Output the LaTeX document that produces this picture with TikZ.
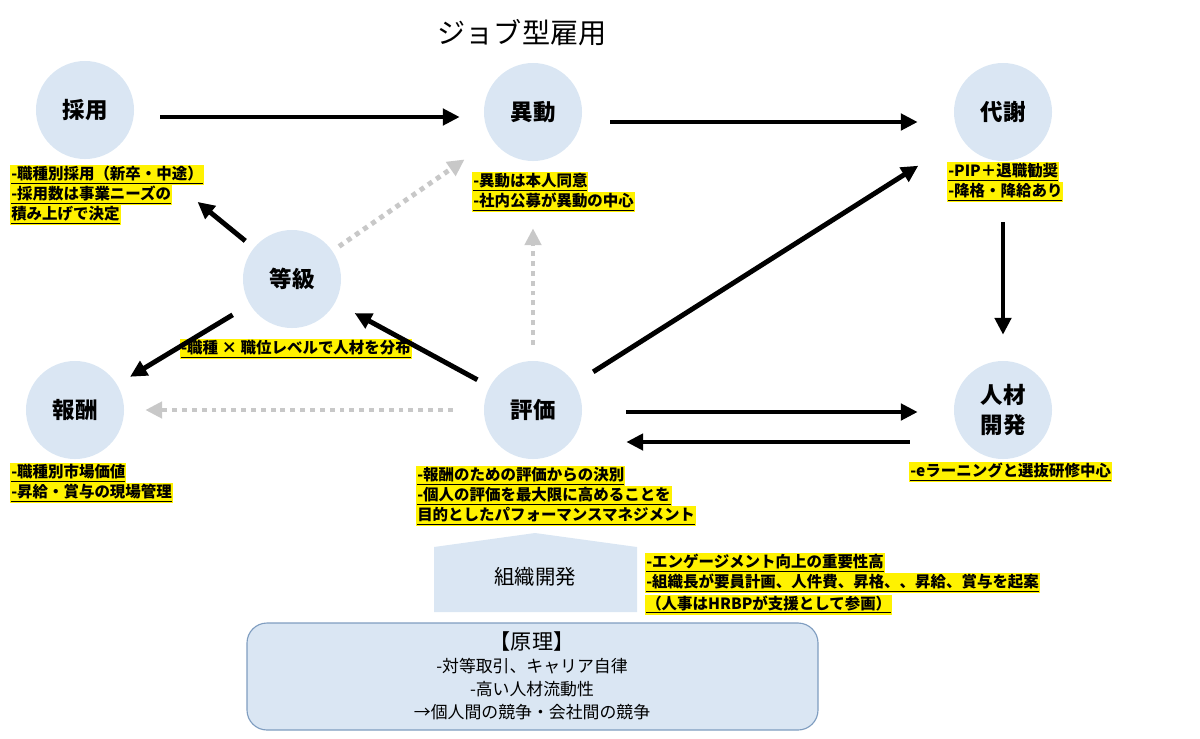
\documentclass[tikz,border=0pt]{standalone}
\usepackage{fontspec}
\setmainfont{Noto Sans CJK JP}
\usetikzlibrary{arrows.meta,calc}
\definecolor{maru}{HTML}{DAE6F3}
\definecolor{waku}{HTML}{7F9DC0}
\definecolor{tensen}{HTML}{C8C8C8}
\setlength{\fboxsep}{0.7pt}
\newcommand{\mkr}[1]{\colorbox{yellow}{\underline{#1}}}

\begin{document}
\begin{tikzpicture}[x=0.025cm, y=-0.025cm, line join=round,
    bubble/.style={circle, fill=maru, minimum size=2.45cm, inner sep=0, align=center, font=\fontsize{16}{21}\selectfont\bfseries},
    arr/.style={line width=3.5pt, -{Triangle[length=12pt,width=11.5pt]}},
    dotarr/.style={line width=3.5pt, tensen, dash pattern=on 3.5pt off 3.5pt, -{Triangle[length=12pt,width=11.5pt]}},
    memo/.style={anchor=north west, inner sep=0, align=left, font=\fontsize{11}{14.2}\selectfont\bfseries}]
    \useasboundingbox (0,0) rectangle (1200,738);

    % タイトル
    \node (title) at (522,33) {\fontsize{20}{24}\selectfont ジョブ型雇用};

    % 丸
    \node[bubble] (saiyo) at (85,110) {採用};
    \node[bubble] (idou) at (533,112) {異動};
    \node[bubble] (taisha) at (1003,112) {代謝};
    \node[bubble] (toukyu) at (292,279) {等級};
    \node[bubble] (houshu) at (75,410) {報酬};
    \node[bubble] (hyouka) at (533,410) {評価};
    \node[bubble] (jinzai) at (1003,410) {人材\\開発};

    % 黄色のメモ
    \node[memo] (saiyomemo) at (10,165) {\mkr{-職種別採用（新卒・中途）}\\\mkr{-採用数は事業ニーズの}\\\mkr{積み上げで決定}};
    \node[memo] (idoumemo) at (472,172) {\mkr{-異動は本人同意}\\\mkr{-社内公募が異動の中心}};
    \node[memo] (taishamemo) at (947,162) {\mkr{-PIP＋退職勧奨}\\\mkr{-降格・降給あり}};
    \node[memo] (toukyumemo) at (180,339) {\mkr{-職種 × 職位レベルで人材を分布}};
    \node[memo] (houshumemo) at (10,463) {\mkr{-職種別市場価値}\\\mkr{-昇給・賞与の現場管理}};
    \node[memo] (hyoukamemo) at (416,466) {\mkr{-報酬のための評価からの決別}\\\mkr{-個人の評価を最大限に高めることを}\\\mkr{目的としたパフォーマンスマネジメント}};
    \node[memo] (jinzaimemo) at (909,462) {\mkr{-eラーニングと選抜研修中心}};

    % 組織開発
    \fill[maru] (434,547) -- (535,533) -- (637,547) -- (637,612) -- (434,612) -- cycle;
    \node (soshiki) at (535,577) {\fontsize{14.5}{18}\selectfont 組織開発};
    \node[memo] (soshikimemo) at (645,553) {\mkr{-エンゲージメント向上の重要性高}\\\mkr{-組織長が要員計画、人件費、昇格、、昇給、賞与を起案}\\\mkr{（人事はHRBPが支援として参画）}};

    % 原理
    \draw[waku, fill=maru, line width=0.8pt, rounded corners=0.5cm] (247,623) rectangle (818,730);
    \node[align=center, font=\fontsize{12}{16.3}\selectfont] (genri) at (532,676) {{\fontsize{15}{18}\selectfont 【原理】}\\-対等取引、キャリア自律\\-高い人材流動性\\→個人間の競争・会社間の競争};

    % 実線の矢印
    \draw[arr, shorten <=0.65cm, shorten >=0.6cm] ($(saiyo.east)+(0,7)$) -- ($(idou.west)+(0,5)$);
    \draw[arr, shorten <=0.7cm, shorten >=0.9cm] ($(idou.east)+(0,10)$) -- ($(taisha.west)+(0,10)$);
    \draw[arr, shorten <=1.525cm, shorten >=0.65cm] (taisha.south) -- (jinzai.north);
    \draw[arr, shorten <=1.1cm, shorten >=0.9cm] ($(hyouka.east)+(0,2)$) -- ($(jinzai.west)+(0,2)$);
    \draw[arr, shorten <=1.1cm, shorten >=1.1cm] ($(jinzai.west)+(0,32)$) -- ($(hyouka.east)+(0,32)$);
    \draw[arr, shorten <=0.55cm, shorten >=1.275cm] (hyouka) -- (taisha);
    \draw[arr, shorten <=0.35cm, shorten >=0.55cm] (hyouka) -- (toukyu);
    \draw[arr, shorten <=0.275cm, shorten >=2.4cm] (toukyu) -- (saiyo);
    \draw[arr, shorten <=0.5cm, shorten >=0.375cm] (toukyu) -- (houshu);

    % 点線の矢印
    \draw[dotarr, shorten <=0.775cm, shorten >=0.525cm] (hyouka.west) -- (houshu.east);
    \draw[dotarr, shorten <=0.4cm, shorten >=1.675cm] (hyouka.north) -- (idou.south);
    \draw[dotarr, shorten <=0.2cm, shorten >=0.85cm] (toukyu) -- (idou);
\end{tikzpicture}
\end{document}
